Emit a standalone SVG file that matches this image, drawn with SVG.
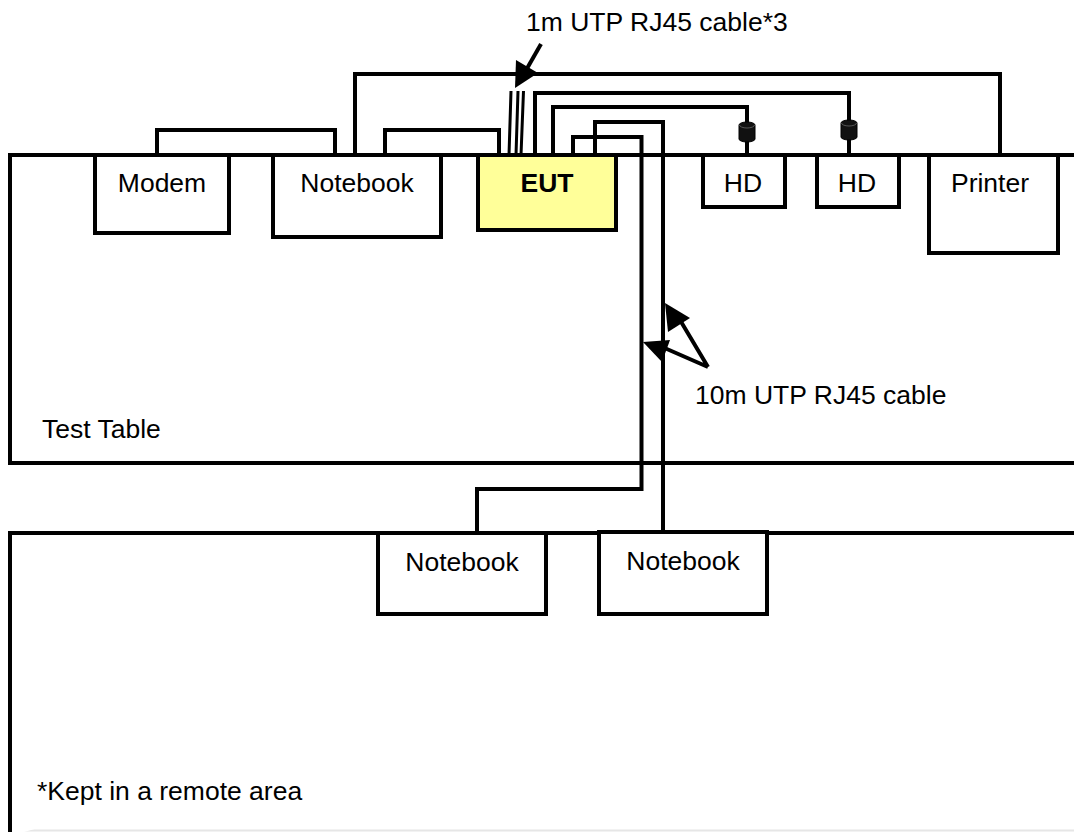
<svg xmlns="http://www.w3.org/2000/svg" width="1074" height="832" viewBox="0 0 1074 832">
<defs><style>
.b{fill:#fff;stroke:#000;stroke-width:4}
.w{fill:none;stroke:#000;stroke-width:4}
.t{fill:none;stroke:#000;stroke-width:3}
.a{fill:#000;stroke:none}
.c{fill:#111;stroke:#000;stroke-width:1}
.r{fill:none;stroke:#555;stroke-width:1}
text{font-family:"Liberation Sans",Arial,sans-serif;font-size:26.500px;fill:#000}
.m{text-anchor:middle}
</style></defs>
<rect width="1074" height="832" fill="#fff"/>
<line x1="12" y1="830.500" x2="1074" y2="830.500" stroke="#e6e6e6" stroke-width="2"/>
<g id="test-table"><path class="b" d="M1078 155H10V463H1078"/><text x="42" y="438">Test Table</text></g>
<g id="remote-area"><path class="b" d="M1078 533H10V836"/><text x="37" y="800">*Kept in a remote area</text></g>
<g id="connectors">
<path class="w" d="M157 155V130H335V155"/>
<path class="w" d="M385 155V130H499V155"/>
<path class="w" d="M355 155V74H1000V155"/>
<path class="t" d="M509 155L511 91M516 155L518 91M521 155L523.500 91"/>
<path class="w" d="M535 155V93H849V155"/>
<path class="w" d="M553 155V107H747V155"/>
<path class="w" d="M573 155V137H641.500V489H477V533"/>
<path class="w" d="M595 155V122H663V533"/>
<path class="w" d="M541 44L525 72"/>
<path class="a" d="M516 60L538 73L515 88Z"/>
<path class="w" d="M708 367L680 320M708 367L660 346"/>
<path class="a" d="M665 303L690 318L668 332Z"/>
<path class="a" d="M643 342L670 340L662 362Z"/>
</g>
<g id="hd-cyl-1"><path class="c" d="M739 125a8 3 0 0 1 16 0V139a8 3 0 0 1-16 0Z"/><path class="r" d="M739.500 125a7.500 3 0 0 0 15 0"/></g>
<g id="hd-cyl-2"><path class="c" d="M841 123a8 3 0 0 1 16 0V137a8 3 0 0 1-16 0Z"/><path class="r" d="M841.500 123a7.500 3 0 0 0 15 0"/></g>
<g id="modem"><rect class="b" x="95" y="155" width="134" height="78"/><text class="m" x="162" y="192">Modem</text></g>
<g id="notebook-1"><rect class="b" x="273" y="155" width="168" height="82"/><text class="m" x="357" y="192">Notebook</text></g>
<g id="eut"><rect class="b" x="478" y="155" width="138" height="75" style="fill:#ffff99"/><text class="m" x="547" y="192" font-weight="bold">EUT</text></g>
<g id="hd-1"><rect class="b" x="703" y="155" width="82" height="52"/><text class="m" x="743" y="192">HD</text></g>
<g id="hd-2"><rect class="b" x="817" y="155" width="82" height="52"/><text class="m" x="857" y="192">HD</text></g>
<g id="printer"><rect class="b" x="929" y="155" width="129" height="98"/><text class="m" x="990" y="192">Printer</text></g>
<g id="notebook-2"><rect class="b" x="378" y="533" width="168" height="81"/><text class="m" x="462" y="571">Notebook</text></g>
<g id="notebook-3"><rect class="b" x="599" y="532" width="168" height="82"/><text class="m" x="683" y="570">Notebook</text></g>
<g id="labels"><text x="526" y="31">1m UTP RJ45 cable*3</text><text x="695" y="404">10m UTP RJ45 cable</text></g>
</svg>
